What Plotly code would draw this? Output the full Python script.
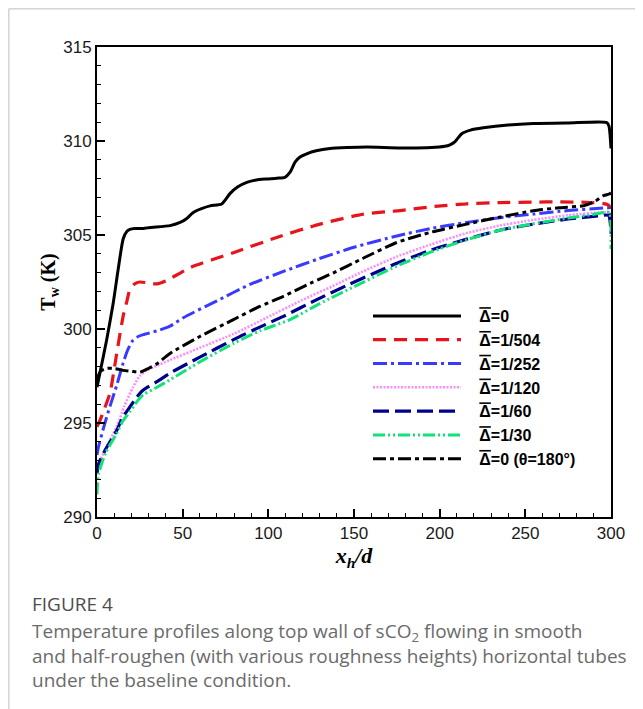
import plotly.graph_objects as go

# ---------------- data ----------------
x_d0 = [0, 1.8, 5.6, 9.5, 12.4, 15.3, 17.5, 19.2, 22, 27, 31, 42.6, 48.5, 52, 56.2, 61, 66, 72.8,
        77.6, 82, 87.4, 93, 99, 105, 109.7, 112.7, 115.6, 118.5, 122.4, 128, 136, 146, 157.4, 177,
        195, 203, 206, 209, 212.9, 218, 225.5, 240, 254.7, 275, 297.5, 298.8, 300]
t_d0 = [296.9, 297.7, 299.4, 301.4, 303.2, 304.8, 305.2, 305.3, 305.35, 305.35, 305.4, 305.5, 305.67,
        305.85, 306.2, 306.4, 306.55, 306.65, 307.2, 307.55, 307.8, 307.93, 307.98, 308.02, 308.07,
        308.34, 308.88, 309.15, 309.32, 309.48, 309.6, 309.65, 309.68, 309.63, 309.65, 309.72, 309.8,
        309.97, 310.39, 310.58, 310.7, 310.85, 310.93, 310.96, 310.98, 310.8, 309.6]

x_504 = [0, 1.8, 4.5, 7.6, 11.5, 15.3, 17.5, 19.2, 22, 25, 30, 35, 40, 54.3, 79.6, 104.9, 130.2,
         155.5, 176.9, 195, 215.8, 235, 254.7, 270, 285.8, 295, 298.3, 300]
t_504 = [294.8, 295.15, 295.8, 296.6, 298.7, 300.7, 301.5, 302.1, 302.4, 302.5, 302.45, 302.4, 302.55,
         303.26, 304.06, 304.87, 305.58, 306.11, 306.3, 306.5, 306.66, 306.72, 306.75, 306.76, 306.74,
         306.68, 306.6, 306.4]

x_252 = [0, 0.8, 4, 7.6, 11.5, 15.3, 18, 21, 24, 27, 35, 42.6, 50.4, 70, 89.3, 110, 128.3, 150, 175,
         195, 215.8, 235, 254.7, 275, 293.6, 298.5, 300]
t_252 = [293.3, 293.7, 294.8, 295.9, 297.0, 298.2, 298.9, 299.4, 299.6, 299.7, 299.9, 300.15, 300.6,
         301.5, 302.37, 303.1, 303.7, 304.35, 304.95, 305.35, 305.67, 305.92, 306.11, 306.3, 306.42,
         306.45, 305.0]

x_120 = [0, 1.8, 6, 11.5, 16, 21, 25, 29, 35, 42.6, 60, 80, 99, 120, 138, 155, 175, 195, 215.8, 235,
         254.7, 275, 293.6, 300]
t_120 = [292.6, 293.0, 293.8, 294.8, 295.9, 296.9, 297.5, 297.8, 298.05, 298.35, 299.0, 299.75, 300.6,
         301.55, 302.3, 303.05, 303.85, 304.5, 305.1, 305.5, 305.8, 306.05, 306.2, 306.2]

x_60 = [0, 0.8, 5, 11.5, 15, 19.2, 23, 27, 35, 42.6, 60, 80, 95, 108.8, 128, 147.7, 160, 175, 195,
        215.8, 235, 254.7, 275, 293.6, 298.5, 300]
t_60 = [292.3, 292.8, 293.6, 294.6, 295.3, 295.85, 296.35, 296.75, 297.2, 297.65, 298.5, 299.45, 300.1,
        300.67, 301.55, 302.4, 302.9, 303.5, 304.2, 304.78, 305.25, 305.58, 305.85, 306.02, 306.05, 305.2]

x_30 = [0, 0.8, 5, 11.5, 15, 19.2, 23, 27, 35, 42.6, 60, 80, 95, 112.7, 130, 150, 175, 195, 215.8,
        235, 254.7, 275, 290, 296, 299, 300]
t_30 = [291.2, 292.25, 293.4, 294.45, 295.1, 295.6, 296.1, 296.5, 296.9, 297.3, 298.25, 299.25, 299.9,
        300.5, 301.35, 302.25, 303.35, 304.1, 304.75, 305.25, 305.6, 305.9, 306.1, 306.2, 306.2, 304.25]

x_180 = [0, 2, 5.6, 10, 15.3, 20, 25, 30, 35, 42.6, 60, 79.6, 95, 108.8, 125, 138, 155, 175, 195,
         215.8, 235, 254.7, 270, 284, 290, 295.6, 299, 300]
t_180 = [297.3, 297.75, 297.9, 297.9, 297.8, 297.75, 297.7, 297.9, 298.15, 298.7, 299.6, 300.5, 301.2,
         301.74, 302.45, 302.99, 303.75, 304.6, 305.15, 305.58, 305.95, 306.29, 306.45, 306.56, 306.75,
         307.09, 307.18, 307.25]

GAP = "\u00a0\u00a0\u00a0"
OV = GAP + '<span style="text-decoration:overline">Δ</span>'
series_names = [OV + "=0", OV + "=1/504", OV + "=1/252", OV + "=1/120",
                OV + "=1/60", OV + "=1/30", OV + "=0 (θ=180°)"]
series_x = [x_d0, x_504, x_252, x_120, x_60, x_30, x_180]
series_y = [t_d0, t_504, t_252, t_120, t_60, t_30, t_180]
colors = ["#000000", "#e8141b", "#3a3aff", "#ff8cff", "#00008f", "#12e27a", "#000000"]
dashes = ["solid", "13px,8px", "14px,4px,3px,4px", "2px,1.5px", "16px,6px",
          "12px,3px,2px,3px,2px,3px", "13px,4px,4px,4px"]
widths = [3, 3.2, 3, 2.6, 3.2, 3, 3]

x_ticks = [0, 50, 100, 150, 200, 250, 300]
y_ticks = [290, 295, 300, 305, 310, 315]

# ---------------- figure ----------------
OFF = 8                      # page body margin
W, H = 643 - OFF, 709 - OFF
L, R, T, B = 97 - OFF, 32, 47 - OFF, 192
pw, ph = W - L - R, H - T - B


def px(x):   # page pixel -> paper
    return (x - OFF - L) / pw


def py(y):   # page pixel -> paper
    return (H - B - (y - OFF)) / ph


fig = go.Figure()
for xs, ys, name, c, d, w in zip(series_x, series_y, series_names, colors, dashes, widths):
    fig.add_trace(go.Scatter(x=xs, y=ys, mode="lines", name=name,
                             line=dict(color=c, dash=d, width=w, shape="spline", smoothing=0.6)))

axis_common = dict(showline=True, linecolor="black", linewidth=2, mirror=True, showgrid=False,
                   zeroline=False, ticks="inside", ticklen=8, tickwidth=2, tickcolor="black",
                   tickfont=dict(family="Liberation Sans, Arial", size=17, color="#1a1a1a"))

fig.update_xaxes(range=[0, 300], tickvals=x_ticks, **axis_common,
                 minor=dict(dtick=10, ticks="inside", ticklen=4, tickwidth=1.2, tickcolor="black"),
                 title=dict(text="<b><i>x<sub>h</sub>/d</i></b>", standoff=0,
                            font=dict(family="Liberation Serif, Times New Roman", size=22, color="black")))
fig.update_yaxes(range=[290, 315], tickvals=y_ticks, **axis_common,
                 minor=dict(dtick=1, ticks="inside", ticklen=4, tickwidth=1.2, tickcolor="black"),
                 title=dict(text="<b>T<sub>w</sub> (K)</b>", standoff=2,
                            font=dict(family="Liberation Serif, Times New Roman", size=20, color="black")))

shapes = [
    dict(type="line", xref="paper", yref="paper", x0=px(8.8), x1=px(8.8), y0=py(8.8), y1=py(709),
         line=dict(color="#d4d4d4", width=1.5)),
    dict(type="line", xref="paper", yref="paper", x0=px(8.8), x1=px(643), y0=py(8.8), y1=py(8.8),
         line=dict(color="#d4d4d4", width=1.5)),
]

caption_text = ("Temperature profiles along top wall of sCO<sub>2</sub> flowing in smooth<br>"
                "and half-roughen (with various roughness heights) horizontal tubes<br>"
                "under the baseline condition.")
annotations = [
    dict(text="FIGURE 4", xref="paper", yref="paper", x=px(30), y=py(604),
         xanchor="left", yanchor="middle", showarrow=False,
         font=dict(family="Open Sans, Noto Sans, sans-serif", size=19, color="#4d4d4d", weight=500)),
    dict(text=caption_text, xref="paper", yref="paper", x=px(30), y=py(655), align="left",
         xanchor="left", yanchor="middle", showarrow=False,
         font=dict(family="Open Sans, Noto Sans, sans-serif", size=19, color="#6b6b6b")),
]

fig.update_layout(
    width=W, height=H, margin=dict(l=L, r=R, t=T, b=B),
    paper_bgcolor="white", plot_bgcolor="white",
    shapes=shapes, annotations=annotations,
    legend=dict(x=px(368), y=py(299), xanchor="left", yanchor="top", bgcolor="rgba(0,0,0,0)",
                itemwidth=88, tracegroupgap=0,
                font=dict(family="Liberation Sans, Arial", size=16, color="black", weight="bold")),
)

fig.write_html("out.html")
